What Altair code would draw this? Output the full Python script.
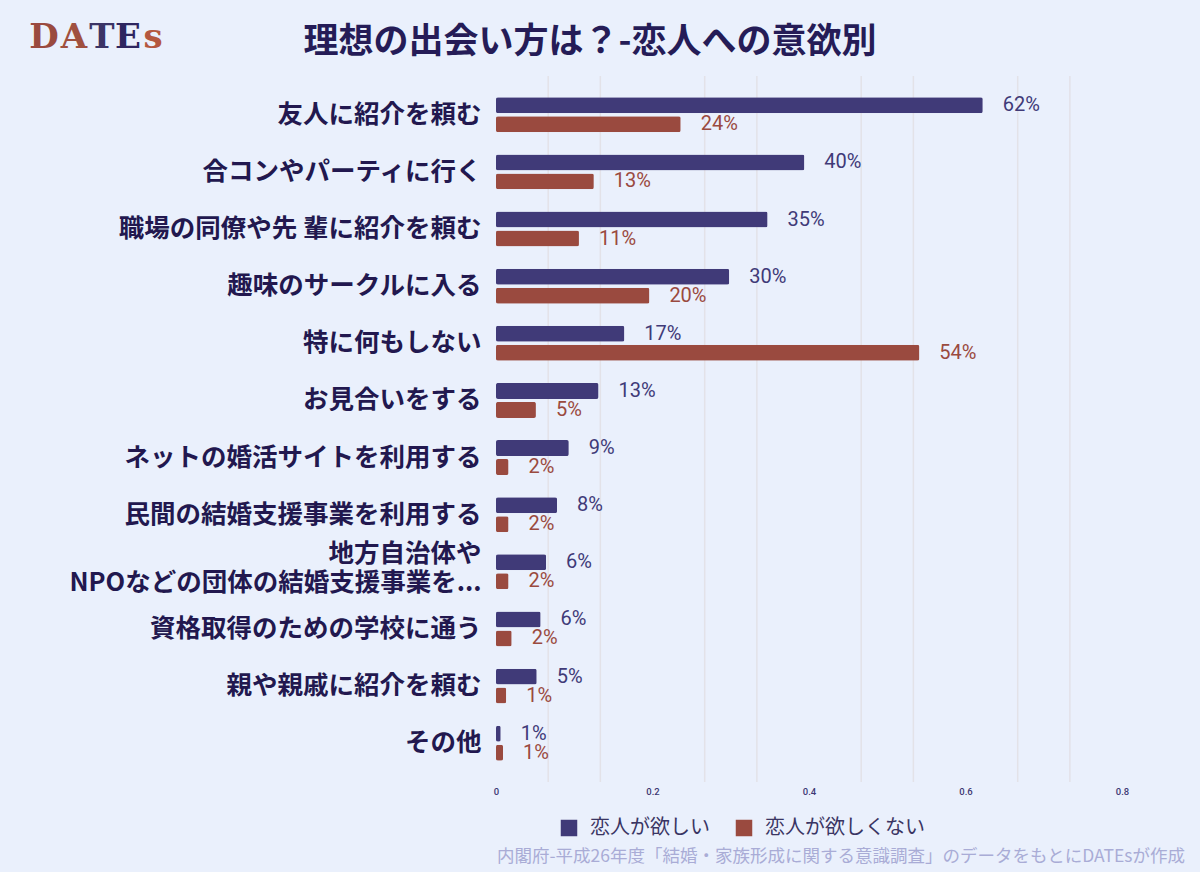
import altair as alt
import pandas as pd

# ---------------- data ----------------
categories = [
    "友人に紹介を頼む",
    "合コンやパーティに行く",
    "職場の同僚や先 輩に紹介を頼む",
    "趣味のサークルに入る",
    "特に何もしない",
    "お見合いをする",
    "ネットの婚活サイトを利用する",
    "民間の結婚支援事業を利用する",
    "地方自治体や\nNPOなどの団体の結婚支援事業を...",
    "資格取得のための学校に通う",
    "親や親戚に紹介を頼む",
    "その他",
]
series_names = ["恋人が欲しい", "恋人が欲しくない"]
want_values = [0.622, 0.394, 0.347, 0.298, 0.164, 0.131, 0.093, 0.078, 0.064, 0.057, 0.052, 0.006]
nowant_values = [0.236, 0.125, 0.106, 0.196, 0.541, 0.051, 0.016, 0.016, 0.016, 0.020, 0.013, 0.009]
want_labels = ["62%", "40%", "35%", "30%", "17%", "13%", "9%", "8%", "6%", "6%", "5%", "1%"]
nowant_labels = ["24%", "13%", "11%", "20%", "54%", "5%", "2%", "2%", "2%", "2%", "1%", "1%"]
tick_values = [0, 0.2, 0.4, 0.6, 0.8]
grid_values = [1 / 15, 2 / 15, 4 / 15, 5 / 15, 7 / 15, 8 / 15, 10 / 15, 11 / 15]
bar_colors = ["#403a78", "#9a4a3f"]

title_text = "理想の出会い方は？-恋人への意欲別"
source_text = "内閣府-平成26年度「結婚・家族形成に関する意識調査」のデータをもとにDATEsが作成"

rows = []
for c, v, l in zip(categories, want_values, want_labels):
    rows.append({"cat": c, "series": series_names[0], "value": v, "label": l})
for c, v, l in zip(categories, nowant_values, nowant_labels):
    rows.append({"cat": c, "series": series_names[1], "value": v, "label": l})
df = pd.DataFrame(rows)

W, H = 673, 706
JP = "Noto Sans CJK JP"

x_scale = alt.Scale(domain=[0, 0.86], nice=False, zero=True)
x_axis = alt.Axis(
    values=tick_values, grid=False, domain=False, ticks=False, title=None,
    format="~g",
    labelFontSize=9.5, labelFont="Roboto", labelFontWeight=500, labelColor="#3d3873",
    labelPadding=4, labelFlush=False,
)
y_enc = alt.Y(
    "cat:N", sort=categories,
    scale=alt.Scale(paddingInner=0.388, paddingOuter=0.372),
    axis=alt.Axis(
        title=None, domain=False, ticks=False, labelFont=JP, labelFontSize=25.5,
        labelFontWeight="bold", labelColor="#22184f", labelPadding=15, labelLimit=0,
        labelExpr="split(datum.label, '\\n')", labelLineHeight=29,
        labelOffset={"condition": {"test": "indexof(datum.value, '\\n') >= 0", "value": -18},
                     "value": 0},
    ),
)
yoff = alt.YOffset("series:N", sort=series_names,
                   scale=alt.Scale(paddingInner=0.158, paddingOuter=0))
color_scale = alt.Scale(domain=series_names, range=bar_colors)

grid = alt.Chart(pd.DataFrame({"g": grid_values})).mark_rule(
    color="#e3e2e8", strokeWidth=1.5
).encode(x=alt.X("g:Q", scale=x_scale, axis=x_axis))

bars = alt.Chart(df).mark_bar(cornerRadius=2).encode(
    x=alt.X("value:Q", scale=x_scale, axis=x_axis),
    y=y_enc,
    yOffset=yoff,
    color=alt.Color(
        "series:N", sort=series_names, scale=color_scale,
        legend=alt.Legend(
            title=None, orient="none", legendX=63, legendY=742, direction="horizontal",
            symbolType="square", symbolSize=272, symbolStrokeWidth=0, symbolOpacity=1,
            labelFont=JP, labelFontSize=20, labelColor="#3a3563", labelOffset=11,
            columnPadding=24, padding=0,
        ),
    ),
)

labels = alt.Chart(df).mark_text(
    align="left", baseline="middle", dx=20, fontSize=20, font="Roboto"
).encode(
    x=alt.X("value:Q", scale=x_scale, axis=x_axis),
    y=y_enc,
    yOffset=yoff,
    text="label:N",
    color=alt.Color("series:N", sort=series_names, scale=color_scale, legend=None),
)

title_layer = alt.Chart(pd.DataFrame({"t": [title_text]})).mark_text(
    x=94, y=-34, align="center", baseline="middle", font=JP, fontSize=35,
    fontWeight="bold", color="#251c57",
).encode(text="t:N")

source_layer = alt.Chart(pd.DataFrame({"t": [source_text]})).mark_text(
    x=1, y=781, align="left", baseline="middle", font=JP, fontSize=17.5,
    color="#a9acd6",
).encode(text="t:N")

logo_letters = ["D", "A", "T", "E", "s"]
logo_colors = ["#9a4a3f", "#a0503f", "#3b3466", "#2e2660", "#b4573f"]
logo_x = [-452, -422, -394, -368, -343]
logo_layers = []
for letter, col, lx in zip(logo_letters, logo_colors, logo_x):
    logo_layers.append(
        alt.Chart(pd.DataFrame({"t": [letter]})).mark_text(
            x=lx, y=-38, align="center", baseline="middle", font="DejaVu Serif",
            fontSize=34, fontWeight="bold", color=col,
        ).encode(text="t:N")
    )

chart = alt.layer(grid, bars, labels, title_layer, source_layer, *logo_layers).properties(
    width=W, height=H,
    padding={"left": 496, "top": 76, "right": 31, "bottom": 90},
    autosize=alt.AutoSizeParams(type="none"),
    background="#eaf0fc",
).configure_view(stroke="transparent")

chart.save("out.html", embed_options={"renderer": "svg", "actions": False})
